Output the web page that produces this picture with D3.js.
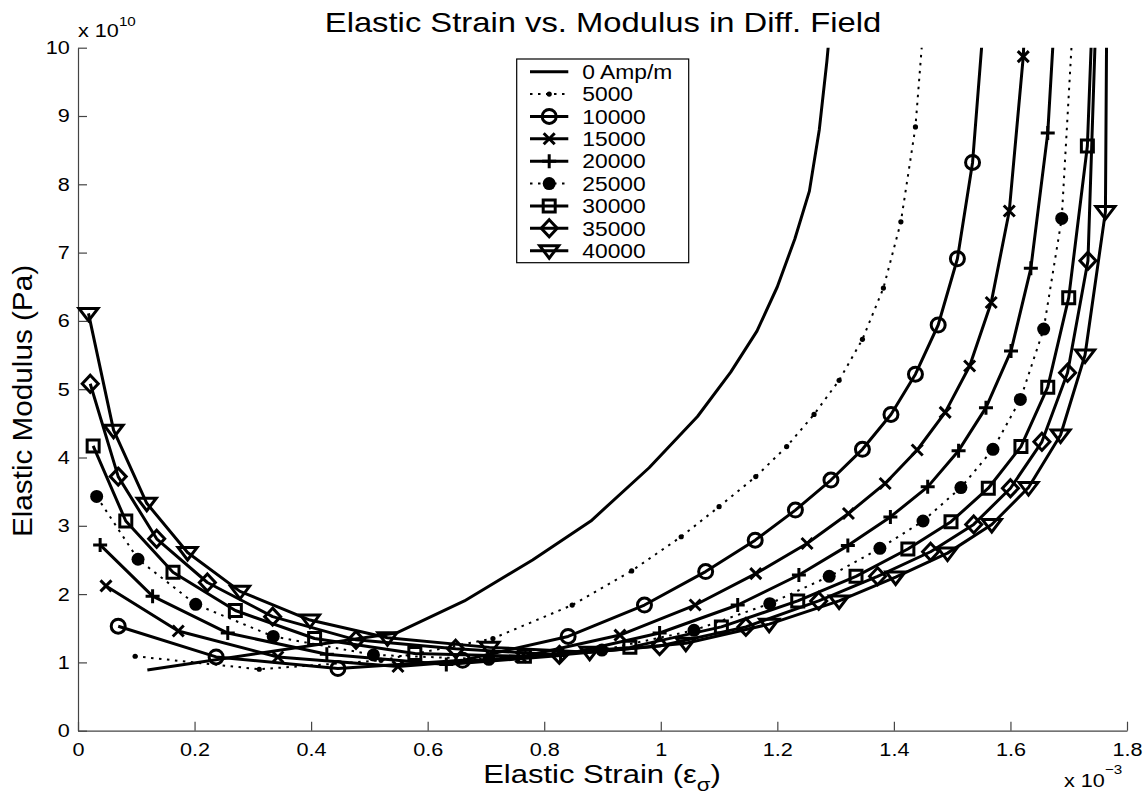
<!DOCTYPE html>
<html><head><meta charset="utf-8">
<script src="https://cdn.jsdelivr.net/npm/d3@7"></script>
<style>
html,body{margin:0;padding:0;background:#fff;}
svg{display:block;}
text{font-family:"Liberation Sans",Arial,Helvetica,sans-serif;fill:#000;}
</style>
</head><body>
<svg id="chart" width="1146" height="799"></svg>
<script>
// ---------- data (strain in 1e-3, modulus in 1e10 Pa) ----------
const fieldLabels = ["0 Amp/m","5000","10000","15000","20000","25000","30000","35000","40000"];

const strain0   = [0.119,0.546,0.663,0.78,0.88,0.98,1.063,1.12,1.165,1.20,1.23,1.255,1.272,1.285,1.298];
const modulus0  = [0.89,1.43,1.90,2.50,3.07,3.85,4.60,5.25,5.85,6.50,7.20,7.90,8.80,9.80,11.0];

const strain5   = [0.098,0.311,0.52,0.712,0.848,0.950,1.035,1.100,1.163,1.216,1.263,1.306,1.346,1.382,1.412,1.437,1.456];
const modulus5  = [1.09,0.90,1.03,1.35,1.84,2.34,2.84,3.28,3.72,4.16,4.63,5.13,5.73,6.48,7.45,8.84,10.9];

const strain10  = [0.069,0.237,0.446,0.66,0.841,0.972,1.077,1.162,1.231,1.292,1.346,1.395,1.437,1.476,1.509,1.535,1.556];
const modulus10 = [1.53,1.08,0.91,1.03,1.38,1.84,2.33,2.79,3.23,3.67,4.12,4.63,5.22,5.94,6.91,8.32,10.6];

const strain15  = [0.048,0.172,0.343,0.549,0.76,0.930,1.059,1.163,1.251,1.322,1.385,1.44,1.488,1.530,1.567,1.598,1.622,1.640];
const modulus15 = [2.12,1.46,1.08,0.94,1.08,1.40,1.84,2.30,2.74,3.18,3.62,4.11,4.66,5.34,6.27,7.61,9.87,13.5];

const strain20  = [0.038,0.128,0.257,0.427,0.632,0.828,0.998,1.132,1.237,1.321,1.394,1.458,1.511,1.558,1.601,1.635,1.664,1.685];
const modulus20 = [2.72,1.97,1.43,1.12,0.97,1.10,1.43,1.84,2.28,2.71,3.13,3.57,4.10,4.73,5.56,6.77,8.75,11.8];

const strain25  = [0.032,0.103,0.202,0.335,0.507,0.705,0.899,1.057,1.187,1.289,1.376,1.450,1.515,1.570,1.617,1.657,1.688,1.710];
const modulus25 = [3.43,2.51,1.85,1.38,1.11,1.045,1.18,1.47,1.86,2.26,2.67,3.07,3.56,4.12,4.85,5.88,7.50,10.8];

const strain30  = [0.026,0.082,0.163,0.270,0.406,0.578,0.766,0.947,1.104,1.235,1.335,1.424,1.498,1.562,1.618,1.664,1.700,1.732,1.745];
const modulus30 = [4.17,3.07,2.32,1.76,1.35,1.13,1.09,1.22,1.52,1.90,2.26,2.66,3.06,3.55,4.16,5.03,6.34,8.56,11.5];

const strain35  = [0.021,0.069,0.135,0.222,0.334,0.477,0.648,0.826,0.998,1.146,1.271,1.372,1.463,1.537,1.600,1.654,1.698,1.733,1.748];
const modulus35 = [5.08,3.72,2.81,2.17,1.67,1.33,1.20,1.11,1.24,1.52,1.90,2.26,2.62,3.02,3.55,4.23,5.24,6.88,10.8];

const strain40  = [0.018,0.061,0.118,0.188,0.278,0.398,0.531,0.706,0.878,1.043,1.186,1.306,1.403,1.492,1.568,1.631,1.686,1.728,1.763,1.766];
const modulus40 = [6.11,4.40,3.33,2.61,2.04,1.62,1.36,1.22,1.15,1.28,1.56,1.90,2.25,2.60,3.02,3.56,4.33,5.50,7.60,11.5];

const xTicks = [0,0.2,0.4,0.6,0.8,1,1.2,1.4,1.6,1.8];
const yTicks = [0,1,2,3,4,5,6,7,8,9,10];
const titleText = "Elastic Strain vs. Modulus in Diff. Field";
const yLabelText = "Elastic Modulus (Pa)";

// ---------- series table ----------
const series = [
  {label: fieldLabels[0], x: strain0,  y: modulus0,  marker: "none",   dotted: false},
  {label: fieldLabels[1], x: strain5,  y: modulus5,  marker: "dot",    dotted: true},
  {label: fieldLabels[2], x: strain10, y: modulus10, marker: "circle", dotted: false},
  {label: fieldLabels[3], x: strain15, y: modulus15, marker: "x",      dotted: false},
  {label: fieldLabels[4], x: strain20, y: modulus20, marker: "plus",   dotted: false},
  {label: fieldLabels[5], x: strain25, y: modulus25, marker: "bigdot", dotted: true},
  {label: fieldLabels[6], x: strain30, y: modulus30, marker: "square", dotted: false},
  {label: fieldLabels[7], x: strain35, y: modulus35, marker: "diamond",dotted: false},
  {label: fieldLabels[8], x: strain40, y: modulus40, marker: "tridown",dotted: false}
];

// ---------- layout ----------
const X0 = 78, X1 = 1127, YB = 730.7, YT = 47.7;
const SX = 1.17; // horizontal text stretch of the original export
const svg = d3.select("#chart");
const xScale = d3.scaleLinear().domain([0,1.8]).range([X0,X1]);
const yScale = d3.scaleLinear().domain([0,10]).range([YB,YT]);

const markerPaths = {
  circle: "M7,0A7,7 0 1,1 -7,0A7,7 0 1,1 7,0Z",
  x: "M-5.5,-5.5L5.5,5.5M-5.5,5.5L5.5,-5.5",
  plus: "M-7,0L7,0M0,-7L0,7",
  square: "M-6,-6H6V6H-6Z",
  diamond: "M0,-8.5L8,0L0,8.5L-8,0Z",
  tridown: "M-9.5,-5L9.5,-5L0,7.5Z"
};

function drawMarker(g, type, cx, cy) {
  if (type === "none") return;
  if (type === "dot") {
    g.append("circle").attr("cx",cx).attr("cy",cy).attr("r",2.6).attr("fill","#000");
  } else if (type === "bigdot") {
    g.append("circle").attr("cx",cx).attr("cy",cy).attr("r",6.5).attr("fill","#000");
  } else {
    g.append("path").attr("d",markerPaths[type])
      .attr("transform",`translate(${cx},${cy})`)
      .attr("fill","none").attr("stroke","#000").attr("stroke-width",3)
      .attr("stroke-linejoin","miter");
  }
}

// ---------- axes ----------
const axisColor = "#444";
const gx = svg.append("g").attr("transform",`translate(0,${YB})`)
  .call(d3.axisBottom(xScale).tickValues(xTicks)
    .tickFormat(d => String(+d.toFixed(1)))
    .tickSizeInner(-9).tickSizeOuter(0).tickPadding(12));
const gy = svg.append("g").attr("transform",`translate(${X0},0)`)
  .call(d3.axisLeft(yScale).tickValues(yTicks)
    .tickFormat(d => String(d))
    .tickSizeInner(-9).tickSizeOuter(0).tickPadding(7));
[gx,gy].forEach(g => {
  g.attr("font-size",null).attr("font-family",null);
  g.select(".domain").attr("stroke",axisColor).attr("stroke-width",1.2);
  g.selectAll(".tick line").attr("stroke",axisColor).attr("stroke-width",1.2);
  g.selectAll(".tick text").style("font-size","18.5px")
    .attr("transform",`scale(${SX},1)`);
});

// exponent labels
const e10 = svg.append("text").attr("transform",`translate(78,37) scale(${SX},1)`).style("font-size","18.5px");
e10.append("tspan").text("x 10");
e10.append("tspan").attr("dy",-11).style("font-size","13px").text("10");

const e3 = svg.append("text").attr("transform",`translate(1064,787) scale(${SX},1)`).style("font-size","18.5px");
e3.append("tspan").text("x 10");
e3.append("tspan").attr("dy",-13).style("font-size","13px").text("\u22123");

// title
svg.append("text").attr("transform",`translate(603,32) scale(${SX},1)`)
  .attr("text-anchor","middle").style("font-size","28px").text(titleText);

// x label
const xl = svg.append("text").attr("transform",`translate(602,783) scale(${SX},1)`)
  .attr("text-anchor","middle").style("font-size","26.5px");
xl.append("tspan").text("Elastic Strain (\u03b5");
xl.append("tspan").attr("dy",8).style("font-size","19px").text("\u03c3");
xl.append("tspan").attr("dy",-8).text(")");

// y label
svg.append("text").attr("transform",`translate(32,401) rotate(-90) scale(1.06,1)`)
  .attr("text-anchor","middle").style("font-size","28px").text(yLabelText);

// ---------- plot ----------
svg.append("defs").append("clipPath").attr("id","clip")
  .append("rect").attr("x",0).attr("y",YT).attr("width",1146).attr("height",799-YT);
const plot = svg.append("g").attr("clip-path","url(#clip)");

series.forEach(s => {
  const idx = d3.range(s.x.length);
  const line = d3.line().x(i => xScale(s.x[i])).y(i => yScale(s.y[i]));
  plot.append("path").attr("d",line(idx))
    .attr("fill","none").attr("stroke","#000")
    .attr("stroke-width", s.dotted ? 2 : 3)
    .attr("stroke-dasharray", s.dotted ? "2.5,5.5" : null)
    .attr("stroke-linejoin","round");
  const mg = plot.append("g");
  idx.forEach(i => drawMarker(mg, s.marker, xScale(s.x[i]), yScale(s.y[i])));
});

// ---------- legend ----------
const lg = svg.append("g");
lg.append("rect").attr("x",516.7).attr("y",59).attr("width",172).attr("height",203.7)
  .attr("fill","#fff").attr("stroke","#000").attr("stroke-width",1.2);
const rowY0 = 71.7, rowDY = 22.37;
series.forEach((s,k) => {
  const cy = rowY0 + k*rowDY;
  lg.append("line").attr("x1",530).attr("x2",568.3).attr("y1",cy).attr("y2",cy)
    .attr("stroke","#000").attr("stroke-width", s.dotted ? 2 : 3)
    .attr("stroke-dasharray", s.dotted ? "2.5,5.5" : null);
  drawMarker(lg, s.marker, 549.2, cy);
  lg.append("text").attr("transform",`translate(582.3,${cy+7.3}) scale(${SX},1)`)
    .style("font-size","19.5px").text(s.label);
});
</script>
</body></html>
